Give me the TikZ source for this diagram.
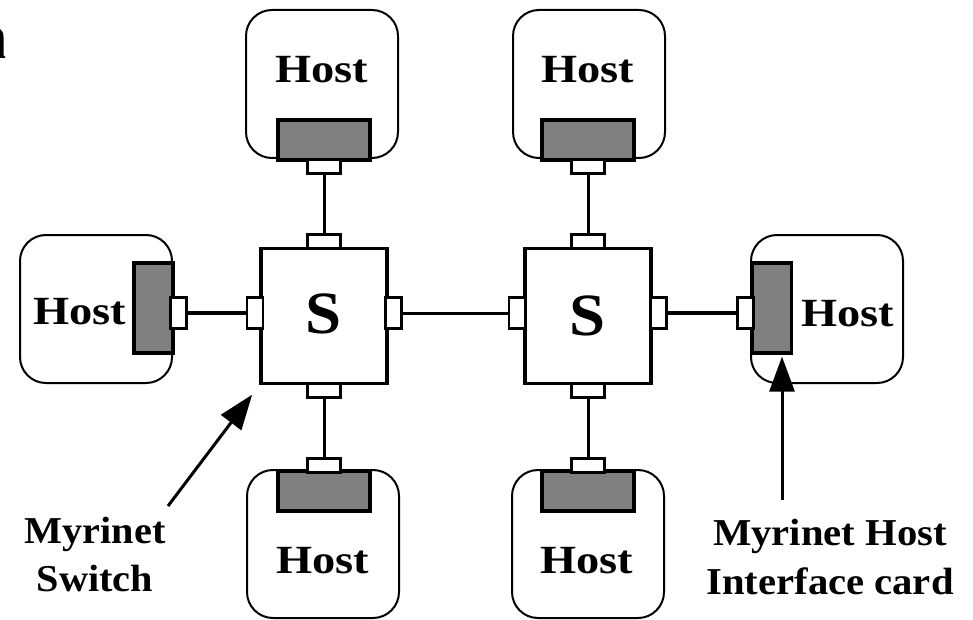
\documentclass[tikz,border=0pt]{standalone}
\usepackage{fontspec}
\usepackage{graphicx}
\setmainfont{Liberation Serif}
\usetikzlibrary{arrows.meta}
\definecolor{cardgray}{HTML}{808080}
\begin{document}
\begin{tikzpicture}[x=1pt,y=-1pt,
  host/.style={draw, line width=2pt, rounded corners=26pt, minimum width=152pt, minimum height=148pt, inner sep=0pt},
  cardh/.style={draw, line width=3.2pt, fill=cardgray, minimum width=92pt, minimum height=40pt, inner sep=0pt},
  cardv/.style={draw, line width=3.2pt, fill=cardgray, minimum width=39pt, minimum height=90pt, inner sep=0pt},
  porth/.style={draw, line width=2.6pt, fill=white, minimum width=33pt, minimum height=14pt, inner sep=0pt},
  portv/.style={draw, line width=2.6pt, fill=white, minimum width=16pt, minimum height=31pt, inner sep=0pt},
  switchbox/.style={draw, line width=3.2pt, fill=white, minimum width=126pt, minimum height=135pt, inner sep=0pt},
  hosttext/.style={font=\bfseries\fontsize{40}{48}\selectfont, inner sep=0pt, anchor=base},
  stext/.style={font=\bfseries\fontsize{60}{70}\selectfont, inner sep=0pt, anchor=base},
  lbl/.style={font=\bfseries\fontsize{38}{48}\selectfont, inner sep=0pt, anchor=base},
  link/.style={line width=3pt},
  thicklink/.style={line width=3.6pt},
  callout/.style={line width=3pt, -{Triangle[length=35pt,width=25pt]}},
]
\useasboundingbox (0,0) rectangle (973,620);
\fill[white] (0,0) rectangle (973,620);

% remnant of a cut-off glyph at the top-left edge
\fill[black] (0,29) .. controls (2,30) and (3.5,33) .. (3.5,37) -- (3.5,55.5) -- (5,56.5) -- (5,58) -- (0,58) -- cycle;

% switches
\node[switchbox] (S1) at (324,316) {};
\node[switchbox] (S2) at (588,316) {};
\node[stext] (S1t) at (324,333) {\scalebox{1.08}[1]{S}};
\node[stext] (S2t) at (588,335) {\scalebox{1.08}[1]{S}};

% switch ports
\node[porth] (S1n) at (324,241.5) {};
\node[porth] (S1s) at (324,390.5) {};
\node[portv] (S1w) at (255,313) {};
\node[portv] (S1e) at (393.5,313) {};
\node[porth] (S2n) at (588,241.5) {};
\node[porth] (S2s) at (588,390.5) {};
\node[portv] (S2w) at (517,313) {};
\node[portv] (S2e) at (658.5,313) {};

% hosts
\node[host] (HT1) at (322,84) {};
\node[host] (HT2) at (589,84) {};
\node[host] (HL) at (96,309) {};
\node[host] (HR) at (827,309) {};
\node[host] (HB1) at (323,544) {};
\node[host] (HB2) at (588,544) {};

% interface cards
\node[cardh] (CT1) at (324,140) {};
\node[cardh] (CT2) at (588,140) {};
\node[cardv] (CL) at (153.5,308) {};
\node[cardv] (CR) at (772,308) {};
\node[cardh] (CB1) at (324,491) {};
\node[cardh] (CB2) at (588,491) {};

% card ports
\node[porth] (PT1) at (324,166.5) {};
\node[porth] (PT2) at (588,166.5) {};
\node[portv] (PL) at (178.5,313) {};
\node[portv] (PR) at (745.5,313) {};
\node[porth] (PB1) at (324,465.5) {};
\node[porth] (PB2) at (588,465.5) {};

% host labels
\node[hosttext] (HT1t) at (322,83) {\scalebox{1.16}[1]{Host}};
\node[hosttext] (HT2t) at (588,83) {\scalebox{1.16}[1]{Host}};
\node[hosttext] (HLt) at (80,324) {\scalebox{1.16}[1]{Host}};
\node[hosttext] (HRt) at (847.5,326) {\scalebox{1.16}[1]{Host}};
\node[hosttext] (HB1t) at (323,573) {\scalebox{1.16}[1]{Host}};
\node[hosttext] (HB2t) at (587,573) {\scalebox{1.16}[1]{Host}};

% links
\draw[link] (PT1.south) -- (S1n.north);
\draw[link] (PT2.south) -- (S2n.north);
\draw[link] (S1s.south) -- (PB1.north);
\draw[link] (S2s.south) -- (PB2.north);
\draw[thicklink] (PL.east) -- (S1w.west);
\draw[link] (S1e.east) -- (S2w.west);
\draw[thicklink] (S2e.east) -- (PR.west);

% callout labels
\node[lbl] (lblS1) at (95,543) {\scalebox{1.06}[1]{Myrinet}};
\node[lbl] (lblS2) at (95,591) {\scalebox{1.06}[1]{Switch}};
\node[lbl] (lblH1) at (830,545) {\scalebox{1.07}[1]{Myrinet Host}};
\node[lbl] (lblH2) at (830,594) {\scalebox{1.07}[1]{Interface card}};

% callout arrows
\coordinate (aS) at (168,506);
\coordinate (aH) at (782,500);
\draw[callout, shorten >=12pt] (aS) -- (S1.south west);
\draw[callout, shorten >=2pt] (aH) -- (aH |- CR.south);
\end{tikzpicture}
\end{document}
